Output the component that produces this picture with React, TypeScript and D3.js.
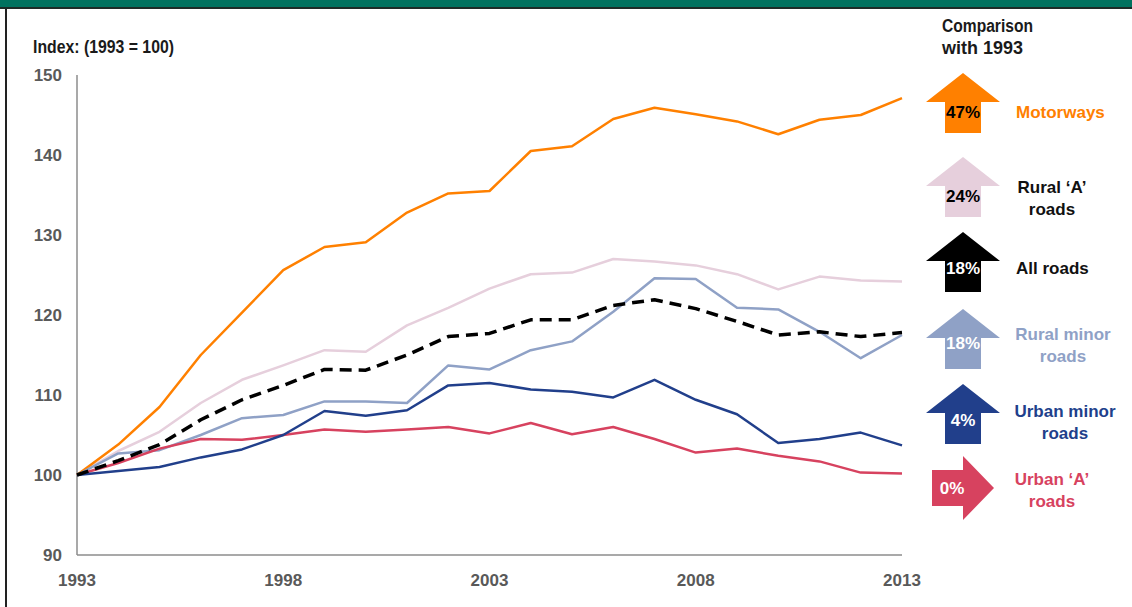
import React, { useEffect, useRef } from "react";
import * as d3 from "d3";

// index values, 1993 = 100
const years = d3.range(1993, 2014);
const motorways = [100, 103.8, 108.5, 115, 120.3, 125.6, 128.5, 129.1, 132.8, 135.2, 135.5, 140.5, 141.1, 144.5, 145.9, 145.1, 144.2, 142.6, 144.4, 145, 147.1];
const ruralA = [100, 103, 105.4, 109, 111.9, 113.7, 115.6, 115.4, 118.7, 120.9, 123.3, 125.1, 125.3, 127, 126.7, 126.2, 125.1, 123.2, 124.8, 124.3, 124.2];
const allRoads = [100, 101.8, 103.8, 106.9, 109.4, 111.2, 113.2, 113.1, 115, 117.3, 117.7, 119.4, 119.4, 121.2, 121.9, 120.8, 119.2, 117.5, 117.9, 117.3, 117.8];
const ruralMinor = [100, 102.7, 103.1, 105, 107.1, 107.5, 109.2, 109.2, 109, 113.7, 113.2, 115.6, 116.7, 120.4, 124.6, 124.5, 120.9, 120.7, 117.9, 114.6, 117.5];
const urbanMinor = [100, 100.5, 101, 102.2, 103.2, 105, 108, 107.4, 108.1, 111.2, 111.5, 110.7, 110.4, 109.7, 111.9, 109.4, 107.6, 104, 104.5, 105.3, 103.7];
const urbanA = [100, 101.5, 103.3, 104.5, 104.4, 105, 105.7, 105.4, 105.7, 106, 105.2, 106.5, 105.1, 106, 104.5, 102.8, 103.3, 102.4, 101.7, 100.3, 100.2];

const yTicks = [90, 100, 110, 120, 130, 140, 150];
const xTicks = [1993, 1998, 2003, 2008, 2013];

const seriesNames = ["Motorways", "Rural 'A' roads", "All roads", "Rural minor roads", "Urban minor roads", "Urban 'A' roads"];
const seriesColors = ["#ff8000", "#e6cfdc", "#000000", "#8fa1c6", "#213f8b", "#d7425f"];
const changeLabels = ["47%", "24%", "18%", "18%", "4%", "0%"];
const legendLines = [["Motorways"], ["Rural \u2018A\u2019", "roads"], ["All roads"], ["Rural minor", "roads"], ["Urban minor", "roads"], ["Urban \u2018A\u2019", "roads"]];
const pctColors = ["#000", "#000", "#fff", "#fff", "#fff", "#fff"];
const textColors = ["#ff8000", "#111", "#111", "#8fa1c6", "#213f8b", "#d7425f"];

const W = 1132;
const H = 607;
const FONT = "'Liberation Sans', Arial, sans-serif";

const App = () => {
  const ref = useRef(null);

  useEffect(() => {
    document.body.style.margin = "0";
    const svg = d3.select(ref.current);
    svg.selectAll("*").remove();

    const x = d3.scaleLinear().domain([1993, 2013]).range([77, 902]);
    const y = d3.scaleLinear().domain([90, 150]).range([555, 75]);

    // frame: green strip on top and a dark edge on the left
    svg.append("rect").attr("x", 0).attr("y", 0).attr("width", W).attr("height", 7).attr("fill", "#00725f");
    svg.append("rect").attr("x", 0).attr("y", 7).attr("width", W).attr("height", 2).attr("fill", "#1d2b27");
    svg.append("rect").attr("x", 5).attr("y", 9).attr("width", 2).attr("height", H - 9).attr("fill", "#222");

    svg.append("text")
      .attr("x", 33).attr("y", 53)
      .attr("font-family", FONT).attr("font-weight", "bold").attr("font-size", 18)
      .attr("textLength", 141).attr("lengthAdjust", "spacingAndGlyphs")
      .attr("fill", "#1a1a1a")
      .text("Index: (1993 = 100)");

    svg.append("text")
      .attr("x", 942).attr("y", 32)
      .attr("font-family", FONT).attr("font-weight", "bold").attr("font-size", 18)
      .attr("textLength", 91).attr("lengthAdjust", "spacingAndGlyphs")
      .attr("fill", "#1a1a1a").text("Comparison");
    svg.append("text")
      .attr("x", 942).attr("y", 54)
      .attr("font-family", FONT).attr("font-weight", "bold").attr("font-size", 18)
      .attr("textLength", 81).attr("lengthAdjust", "spacingAndGlyphs")
      .attr("fill", "#1a1a1a").text("with 1993");

    // axes
    const axisColor = "#8c8c8c";
    svg.append("line").attr("x1", x(1993)).attr("x2", x(1993)).attr("y1", y(150)).attr("y2", y(90))
      .attr("stroke", axisColor).attr("stroke-width", 1.5);
    svg.append("line").attr("x1", x(1993)).attr("x2", x(2013)).attr("y1", y(90)).attr("y2", y(90))
      .attr("stroke", axisColor).attr("stroke-width", 1.5);

    svg.append("g").selectAll("text").data(yTicks).enter().append("text")
      .attr("x", 62).attr("y", (d) => y(d) + 6)
      .attr("text-anchor", "end")
      .attr("font-family", FONT).attr("font-weight", "bold").attr("font-size", 17)
      .attr("fill", "#595959")
      .text((d) => d);

    svg.append("g").selectAll("text").data(xTicks).enter().append("text")
      .attr("x", (d) => x(d)).attr("y", 586)
      .attr("text-anchor", "middle")
      .attr("font-family", FONT).attr("font-weight", "bold").attr("font-size", 17)
      .attr("fill", "#595959")
      .text((d) => d);

    // lines, drawn back to front
    const allSeries = [motorways, ruralA, allRoads, ruralMinor, urbanMinor, urbanA];
    const line = d3.line().x((d, i) => x(years[i])).y((d) => y(d));
    const drawOrder = [1, 0, 3, 5, 4, 2];
    drawOrder.forEach((k) => {
      svg.append("path")
        .datum(allSeries[k])
        .attr("d", line)
        .attr("fill", "none")
        .attr("stroke", seriesColors[k])
        .attr("stroke-width", k === 2 ? 3.5 : 2.5)
        .attr("stroke-dasharray", k === 2 ? "12,7" : null)
        .attr("stroke-linejoin", "round")
        .attr("aria-label", seriesNames[k]);
    });

    // legend arrows
    const arrowTops = [73, 157, 232, 309, 384];
    const cx = 963;
    const upArrow = (top) => {
      const p = d3.path();
      p.moveTo(cx, top);
      p.lineTo(cx + 37, top + 29);
      p.lineTo(cx + 18, top + 29);
      p.lineTo(cx + 18, top + 60);
      p.lineTo(cx - 18, top + 60);
      p.lineTo(cx - 18, top + 29);
      p.lineTo(cx - 37, top + 29);
      p.closePath();
      return p.toString();
    };
    const rightArrow = (mid) => {
      const p = d3.path();
      p.moveTo(932, mid - 18);
      p.lineTo(963, mid - 18);
      p.lineTo(963, mid - 32);
      p.lineTo(994, mid);
      p.lineTo(963, mid + 32);
      p.lineTo(963, mid + 18);
      p.lineTo(932, mid + 18);
      p.closePath();
      return p.toString();
    };

    const legendMid = [112, 196, 268, 343, 420, 488];
    const legend = svg.append("g");
    seriesNames.forEach((name, k) => {
      legend.append("path")
        .attr("d", k < 5 ? upArrow(arrowTops[k]) : rightArrow(legendMid[k]))
        .attr("fill", seriesColors[k]);
      legend.append("text")
        .attr("x", k < 5 ? cx : 952).attr("y", legendMid[k] + 6)
        .attr("text-anchor", "middle")
        .attr("font-family", FONT).attr("font-weight", "bold").attr("font-size", 17)
        .attr("fill", pctColors[k])
        .text(changeLabels[k]);
      const lines = legendLines[k];
      const single = lines.length === 1;
      lines.forEach((t, j) => {
        legend.append("text")
          .attr("x", single ? 1016 : 1063 - (k === 1 ? 11 : 0) + (k === 4 ? 2 : 0) - (k === 5 ? 11 : 0))
          .attr("y", legendMid[k] + (single ? 6 : j === 0 ? -3 : 19))
          .attr("text-anchor", single ? "start" : "middle")
          .attr("font-family", FONT).attr("font-weight", "bold").attr("font-size", 17)
          .attr("fill", textColors[k])
          .text(t);
      });
    });
  }, []);

  return <svg ref={ref} width={W} height={H} style={{ display: "block", background: "#fff" }}></svg>;
};

export default App;
